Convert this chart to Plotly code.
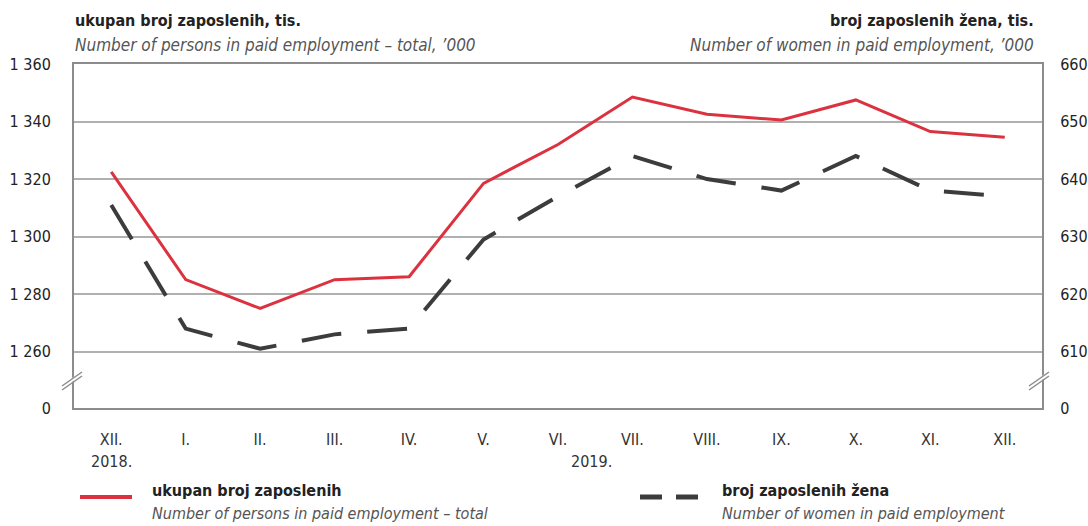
"""Paid employment chart: total persons vs. women, XII 2018 - XII 2019."""
import plotly.graph_objects as go

months = ["XII.", "I.", "II.", "III.", "IV.", "V.", "VI.", "VII.", "VIII.", "IX.", "X.", "XI.", "XII."]
total_employed = [1322.5, 1285, 1275, 1285, 1286, 1318.5, 1332, 1348.5, 1342.5, 1340.5, 1347.5, 1336.5, 1334.5]
women_employed = [635.5, 614, 610.5, 613, 614, 629.5, 637, 644, 640, 638, 644, 638, 637]

left_ticks = [1260, 1280, 1300, 1320, 1340, 1360]
right_ticks = [610, 620, 630, 640, 650, 660]
# axis is broken below the lowest gridline, "0" sits at the bottom of the frame
LEFT_ZERO = 1240.35
RIGHT_ZERO = 600.2

RED = "#dc3240"
DARK = "#3c3c3c"
GRID = "#b0b0b0"
FRAME = "#8c8c8c"
FONT = "DejaVu Sans Condensed, Liberation Sans Narrow, Arial Narrow, sans-serif"

W, H = 1088, 526
# plot area in page pixels
L, R, T, B = 74, 1042, 64, 408


def px(x):
    return (x - L) / (R - L)


def py(y):
    return (B - y) / (B - T)


def fmt(v):
    return f"{v:,}".replace(",", " ")


fig = go.Figure()
fig.add_trace(go.Scatter(
    x=list(range(len(months))), y=total_employed,
    mode="lines", line=dict(color=RED, width=3),
    showlegend=False, hoverinfo="skip",
))
fig.add_trace(go.Scatter(
    x=list(range(len(months))), y=women_employed, yaxis="y2",
    mode="lines", line=dict(color=DARK, width=4, dash="40px,26px"),
    showlegend=False, hoverinfo="skip",
))

fig.update_layout(
    width=W, height=H,
    margin=dict(l=L, r=W - R, t=T, b=H - B, autoexpand=False),
    plot_bgcolor="white", paper_bgcolor="white",
    font=dict(family=FONT, size=16, color="#222"),
    xaxis=dict(
        range=[-0.5, 12.5], tickvals=list(range(len(months))), ticktext=months,
        showgrid=False, zeroline=False, showline=True, mirror=True,
        linecolor=FRAME, linewidth=2, ticks="", ticklabelstandoff=16,
        tickfont=dict(size=16, color="#333"), automargin=False,
    ),
    yaxis=dict(
        range=[LEFT_ZERO, 1360], tickvals=[LEFT_ZERO] + left_ticks,
        ticktext=["0"] + [fmt(v) for v in left_ticks],
        showgrid=True, gridcolor=GRID, gridwidth=1.5, zeroline=False,
        showline=True, linecolor=FRAME, linewidth=2, ticks="",
        ticklabelstandoff=18, tickfont=dict(size=16, color="#222"),
        automargin=False,
    ),
    yaxis2=dict(
        range=[RIGHT_ZERO, 660], overlaying="y", side="right",
        tickvals=[RIGHT_ZERO] + right_ticks,
        ticktext=["0"] + [str(v) for v in right_ticks],
        showgrid=False, zeroline=False, showline=True, linecolor=FRAME,
        linewidth=2, ticks="", ticklabelstandoff=13,
        tickfont=dict(size=16, color="#222"), automargin=False,
    ),
)

# axis break marks
shapes = []
for cx in (72, 1039):
    cy = 381
    shapes.append(dict(
        type="path", xref="paper", yref="paper", layer="above",
        path=f"M{px(cx-10)},{py(cy+8)} L{px(cx+10)},{py(cy-6)} L{px(cx+10)},{py(cy-10)} L{px(cx-10)},{py(cy+4)} Z",
        fillcolor="white", line=dict(width=0),
    ))
    for off in (2, -2):
        shapes.append(dict(
            type="line", xref="paper", yref="paper", layer="above",
            x0=px(cx - 10), y0=py(cy + off + 7), x1=px(cx + 10), y1=py(cy + off - 7),
            line=dict(color=FRAME, width=1.5),
        ))

# legend samples
shapes.append(dict(type="line", xref="paper", yref="paper",
                   x0=px(80), x1=px(132), y0=py(497), y1=py(497),
                   line=dict(color=RED, width=4)))
for x0, x1 in ((640, 662), (676, 698)):
    shapes.append(dict(type="line", xref="paper", yref="paper",
                       x0=px(x0), x1=px(x1), y0=py(497), y1=py(497),
                       line=dict(color=DARK, width=5)))
fig.update_layout(shapes=shapes)

BOLD = dict(family=FONT, size=16, color="#222")
ITAL = dict(family=FONT, size=17, color="#555")
ITAL_SMALL = dict(family=FONT, size=16, color="#555")
notes = [
    ("<b>ukupan broj zaposlenih, tis.</b>", 73, 20, "left", BOLD),
    ("<i>Number of persons in paid employment – total, ’000</i>", 73, 45, "left", ITAL),
    ("<b>broj zaposlenih žena, tis.</b>", 1036, 20, "right", BOLD),
    ("<i>Number of women in paid employment, ’000</i>", 1036, 45, "right", ITAL),
    ("<b>ukupan broj zaposlenih</b>", 150, 490, "left", BOLD),
    ("<i>Number of persons in paid employment – total</i>", 150, 513, "left", ITAL_SMALL),
    ("<b>broj zaposlenih žena</b>", 720, 490, "left", BOLD),
    ("<i>Number of women in paid employment</i>", 720, 513, "left", ITAL_SMALL),
]
for text, x, y, anchor, font in notes:
    fig.add_annotation(text=text, xref="paper", yref="paper", x=px(x), y=py(y),
                       xanchor=anchor, yanchor="middle", showarrow=False, font=font)

for text, x in (("2018.", 0), ("2019.", 6.45)):
    fig.add_annotation(text=text, xref="x", yref="paper", x=x, y=py(461),
                       xanchor="center", yanchor="middle", showarrow=False,
                       font=dict(family=FONT, size=16, color="#333"))

# drop the default body margin so the figure fills the window exactly
fig.write_html(
    "out.html",
    config={"displayModeBar": False},
    post_script="document.body.style.margin='0';document.body.style.overflow='hidden';",
)
